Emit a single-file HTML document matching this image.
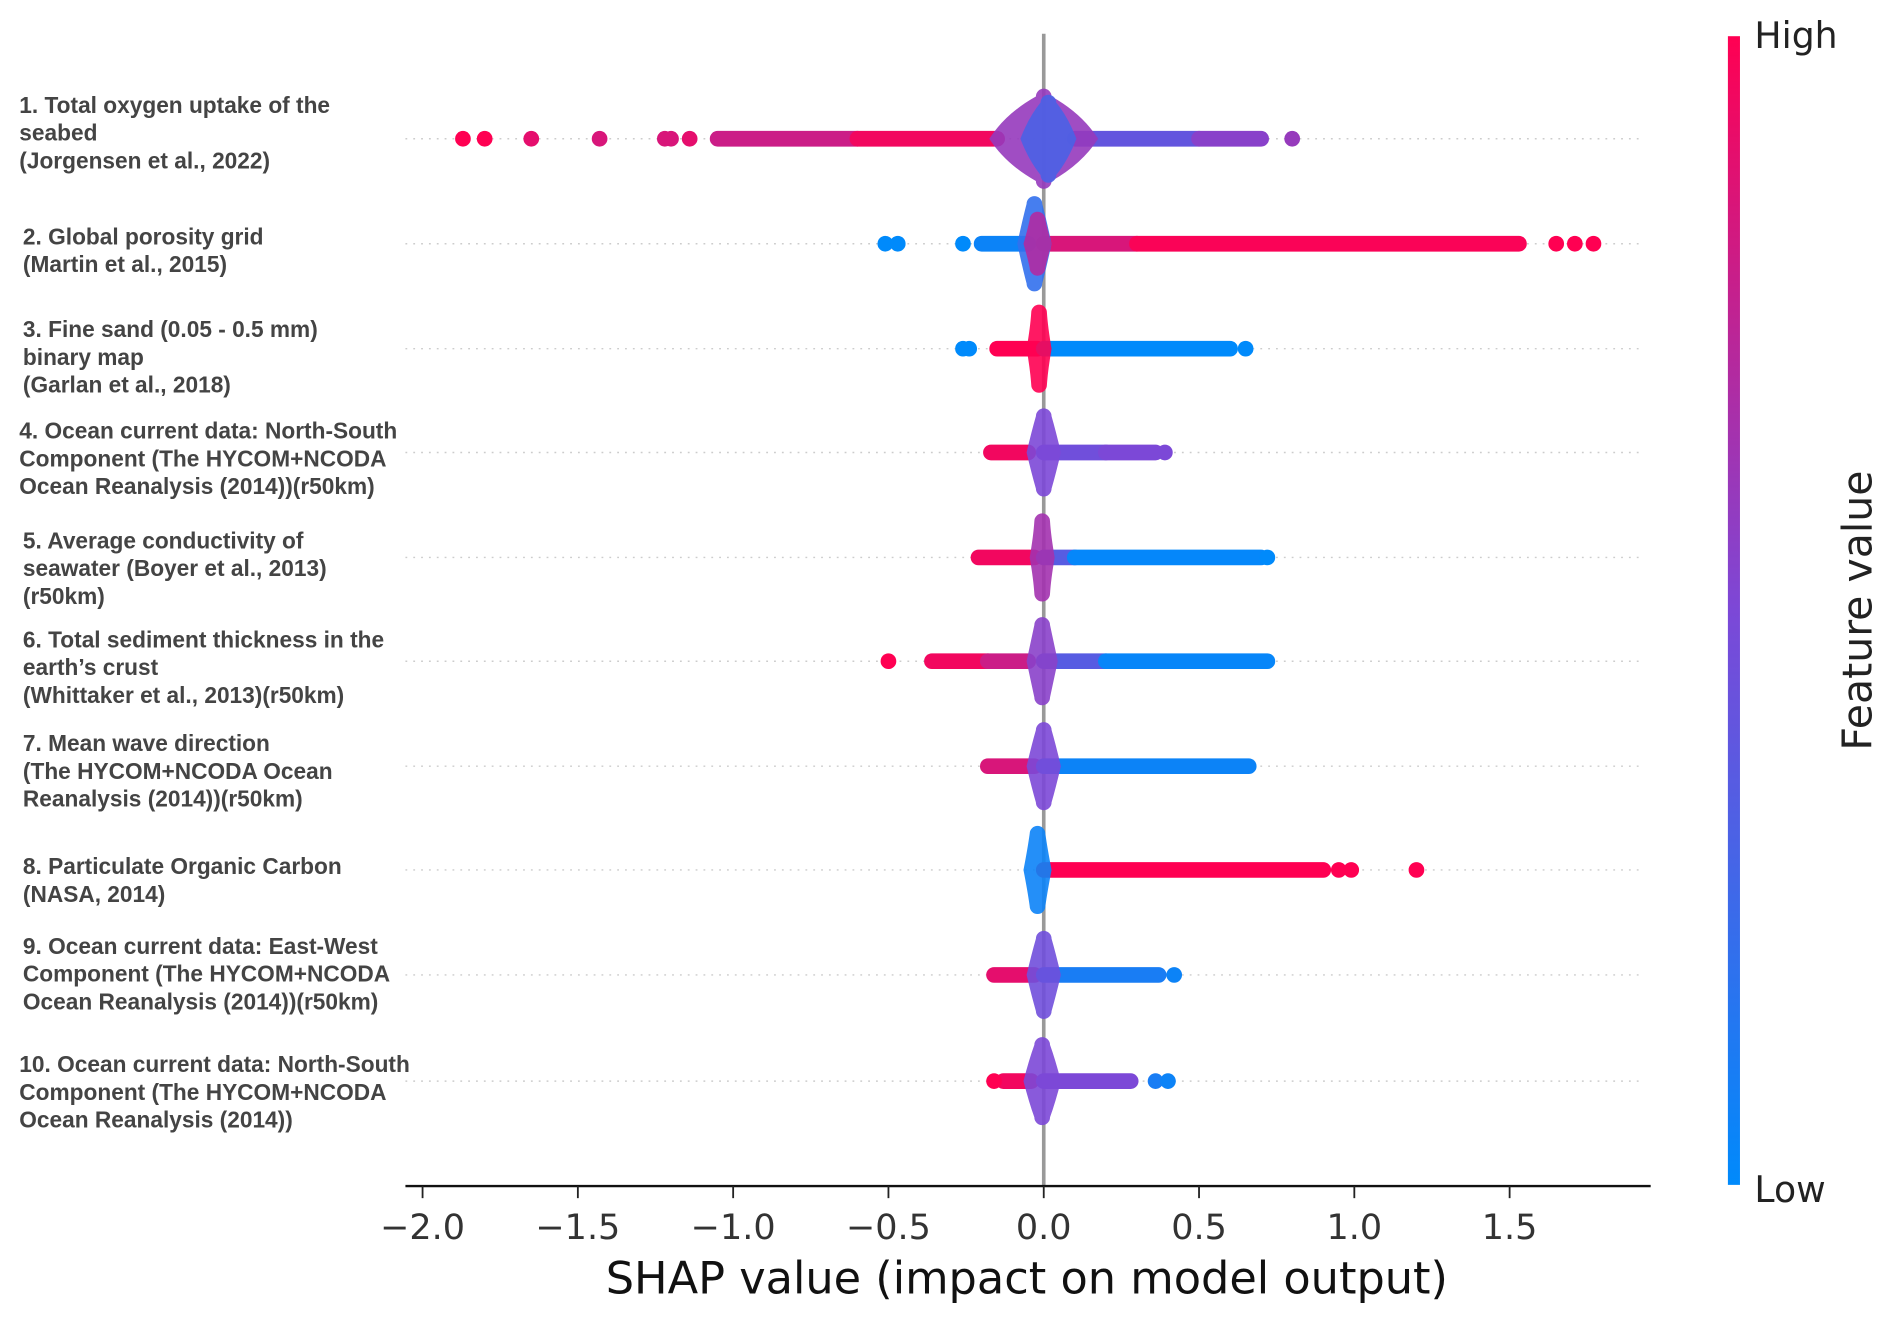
<!DOCTYPE html>
<html><head><meta charset="utf-8"><style>
html,body{margin:0;padding:0;background:#fff;}
svg{display:block;}
</style></head><body>
<svg id="chart" width="1892" height="1324" viewBox="0 0 1568 1097.3" preserveAspectRatio="none" xmlns="http://www.w3.org/2000/svg" font-family="'Liberation Sans', 'DejaVu Sans', sans-serif">
<defs>
<linearGradient id="cbar" x1="0" y1="0" x2="0" y2="1">
<stop offset="0" stop-color="#ff0052"/>
<stop offset="0.5" stop-color="#7c48d7"/>
<stop offset="1" stop-color="#008afb"/>
</linearGradient>
</defs>
<g id="grid"></g>
<line x1="865" y1="28" x2="865" y2="983" stroke="#999" stroke-width="3"/>
<g id="marks"></g>
<g id="labels" font-weight="bold" font-size="18.8" fill="#444"></g>
<g id="axis"></g>
<text x="851" y="1072" font-family="'DejaVu Sans', sans-serif" font-size="37" text-anchor="middle" fill="#111">SHAP value (impact on model output)</text>
<rect x="1432" y="30" width="10" height="952" fill="url(#cbar)"/>
<text x="1454" y="40" font-family="'DejaVu Sans', sans-serif" font-size="30" fill="#222">High</text>
<text x="1454" y="996" font-family="'DejaVu Sans', sans-serif" font-size="30" fill="#222">Low</text>
<text transform="translate(1551,506) rotate(-90)" font-family="'DejaVu Sans', sans-serif" font-size="34" text-anchor="middle" fill="#222">Feature value</text>
</svg>
<script>
const NS='http://www.w3.org/2000/svg';
const tickValues=[-2.0,-1.5,-1.0,-0.5,0.0,0.5,1.0,1.5];
const tickLabels=['\u22122.0','\u22121.5','\u22121.0','\u22120.5','0.0','0.5','1.0','1.5'];
const featureLabels=[
 ['1. Total oxygen uptake of the','seabed','(Jorgensen et al., 2022)'],
 ['2. Global porosity grid','(Martin et al., 2015)'],
 ['3. Fine sand (0.05 - 0.5 mm)','binary map','(Garlan et al., 2018)'],
 ['4. Ocean current data: North-South','Component (The HYCOM+NCODA','Ocean Reanalysis (2014))(r50km)'],
 ['5. Average conductivity of','seawater (Boyer et al., 2013)','(r50km)'],
 ['6. Total sediment thickness in the','earth\u2019s crust','(Whittaker et al., 2013)(r50km)'],
 ['7. Mean wave direction','(The HYCOM+NCODA Ocean','Reanalysis (2014))(r50km)'],
 ['8. Particulate Organic Carbon','(NASA, 2014)'],
 [' 9. Ocean current data: East-West','Component (The HYCOM+NCODA','Ocean Reanalysis (2014))(r50km)'],
 ['10. Ocean current data: North-South','Component (The HYCOM+NCODA','Ocean Reanalysis (2014))']
];
// bands: [start, end, featureValue(0 low..1 high)]
const bands=[
 [[-1.05,-0.6,0.8],[-0.6,-0.15,0.95],[0.1,0.5,0.4],[0.5,0.7,0.55]],
 [[-0.2,-0.05,0.05],[0.0,0.3,0.85],[0.3,1.53,0.98]],
 [[-0.15,-0.02,1.0],[0.0,0.6,0.0]],
 [[-0.17,-0.05,0.95],[0.0,0.2,0.45],[0.2,0.36,0.5]],
 [[-0.21,-0.03,0.95],[0.0,0.1,0.35],[0.1,0.7,0.02]],
 [[-0.36,-0.18,0.95],[-0.18,-0.05,0.8],[0.0,0.2,0.35],[0.2,0.72,0.03]],
 [[-0.18,-0.03,0.85],[0.0,0.66,0.05]],
 [[0.0,0.9,1.0]],
 [[-0.16,-0.03,0.9],[0.0,0.37,0.1]],
 [[-0.13,-0.04,0.95],[0.0,0.28,0.5]]
];
// blobs near zero: [start, end, verticalSpreadPx, featureValue]
const blobs=[
 [[-0.15,0.15,35,0.6],[-0.05,0.08,30,0.3]],
 [[-0.06,0.0,33,0.2],[-0.04,0.0,20,0.7]],
 [[-0.03,0.0,30,1.0]],
 [[-0.03,0.03,30,0.5]],
 [[-0.02,0.01,30,0.65]],
 [[-0.03,0.02,30,0.55]],
 [[-0.03,0.03,30,0.5]],
 [[-0.04,0.0,30,0.05]],
 [[-0.03,0.03,30,0.45]],
 [[-0.04,0.03,30,0.5]]
];
// outlier points: [value, featureValue]
const outliers=[
 [[-1.87,1],[-1.8,1],[-1.65,0.9],[-1.43,0.85],[-1.22,0.85],[-1.2,0.85],[-1.14,0.9],[0.8,0.6]],
 [[-0.51,0],[-0.47,0],[-0.26,0],[1.65,1],[1.71,1],[1.77,1]],
 [[-0.26,0],[-0.24,0],[0.65,0]],
 [[0.39,0.5]],
 [[0.72,0]],
 [[-0.5,1]],
 [],
 [[0.95,1],[0.99,1],[1.2,1]],
 [[0.42,0.05]],
 [[-0.16,1],[0.36,0.1],[0.4,0.05]]
];
const rowY=[115,202,289,375,462,548,635,721,808,896];
const labelX=[16,19,19,16,19,19,19,19,19,16];
const labelTop=[87,196,273,357,448,530,616,718,784,882];
function xs(v){return 865+257.4*v;}
function col(f){
 const a=[0,138,251],m=[124,72,215],b=[255,0,82];
 let c;
 if(f<0.5){const t=f/0.5;c=a.map((v,i)=>Math.round(v+(m[i]-v)*t));}
 else{const t=(f-0.5)/0.5;c=m.map((v,i)=>Math.round(v+(b[i]-v)*t));}
 return 'rgb('+c.join(',')+')';
}
const grid=document.getElementById('grid');
const marks=document.getElementById('marks');
const labels=document.getElementById('labels');
const axis=document.getElementById('axis');
const R=6.5;
rowY.forEach((y,i)=>{
 const g=document.createElementNS(NS,'line');
 
 
 g.setAttribute('x1',336);g.setAttribute('x2',1362);g.setAttribute('y1',y);g.setAttribute('y2',y);
 g.setAttribute('stroke','#ccc');g.setAttribute('stroke-width',1.2);g.setAttribute('stroke-dasharray','1.5 5');
 grid.appendChild(g);
 const fg=document.createElementNS(NS,'g');
 
 
 marks.appendChild(fg);
 bands[i].forEach(b=>{
  const l=document.createElementNS(NS,'line');
  
  
  l.setAttribute('x1',xs(b[0]));l.setAttribute('x2',xs(b[1]));l.setAttribute('y1',y);l.setAttribute('y2',y);
  l.setAttribute('stroke',col(b[2]));l.setAttribute('stroke-width',2*R);l.setAttribute('stroke-linecap','round');
  fg.appendChild(l);
 });
 blobs[i].forEach(b=>{
  const x0=xs(b[0]),x1=xs(b[1]),h=b[2];
  const p=document.createElementNS(NS,'path');
  
  
  const cx=(x0+x1)/2,hw=(x1-x0)/2+R;
  const d='M'+(cx-hw)+' '+y+' Q'+(cx-hw*0.7)+' '+(y-h*0.6)+' '+(cx-R)+' '+(y-h)+' A'+R+' '+R+' 0 0 1 '+(cx+R)+' '+(y-h)+' Q'+(cx+hw*0.7)+' '+(y-h*0.6)+' '+(cx+hw)+' '+y+' Q'+(cx+hw*0.7)+' '+(y+h*0.6)+' '+(cx+R)+' '+(y+h)+' A'+R+' '+R+' 0 0 1 '+(cx-R)+' '+(y+h)+' Q'+(cx-hw*0.7)+' '+(y+h*0.6)+' '+(cx-hw)+' '+y+'Z';
  p.setAttribute('d',d);p.setAttribute('fill',col(b[3]));p.setAttribute('fill-opacity',0.9);
  fg.appendChild(p);
 });
 outliers[i].forEach(o=>{
  const c=document.createElementNS(NS,'circle');
  
  
  c.setAttribute('cx',xs(o[0]));c.setAttribute('cy',y);c.setAttribute('r',R);c.setAttribute('fill',col(o[1]));
  fg.appendChild(c);
 });
 featureLabels[i].forEach((s,k)=>{
  const t=document.createElementNS(NS,'text');
  
  
  t.setAttribute('x',labelX[i]);t.setAttribute('y',labelTop[i]+k*23+6.5);
  t.setAttribute('xml:space','preserve');
  t.textContent=s;labels.appendChild(t);
 });
});
const ax=document.createElementNS(NS,'line');


ax.setAttribute('x1',336);ax.setAttribute('x2',1368);ax.setAttribute('y1',983);ax.setAttribute('y2',983);
ax.setAttribute('stroke','#111');ax.setAttribute('stroke-width',2);
axis.appendChild(ax);
tickValues.forEach((v,i)=>{
 const t=document.createElementNS(NS,'line');
 
 
 t.setAttribute('x1',xs(v));t.setAttribute('x2',xs(v));t.setAttribute('y1',983);t.setAttribute('y2',993);
 t.setAttribute('stroke','#222');t.setAttribute('stroke-width',1.5);
 axis.appendChild(t);
 const l=document.createElementNS(NS,'text');
 
 
 l.setAttribute('x',xs(v));l.setAttribute('y',1027);l.setAttribute('text-anchor','middle');
 l.setAttribute('font-family',"'DejaVu Sans', sans-serif");l.setAttribute('font-size',29);l.setAttribute('fill','#333');
 l.textContent=tickLabels[i];axis.appendChild(l);
});
</script>
</body></html>
